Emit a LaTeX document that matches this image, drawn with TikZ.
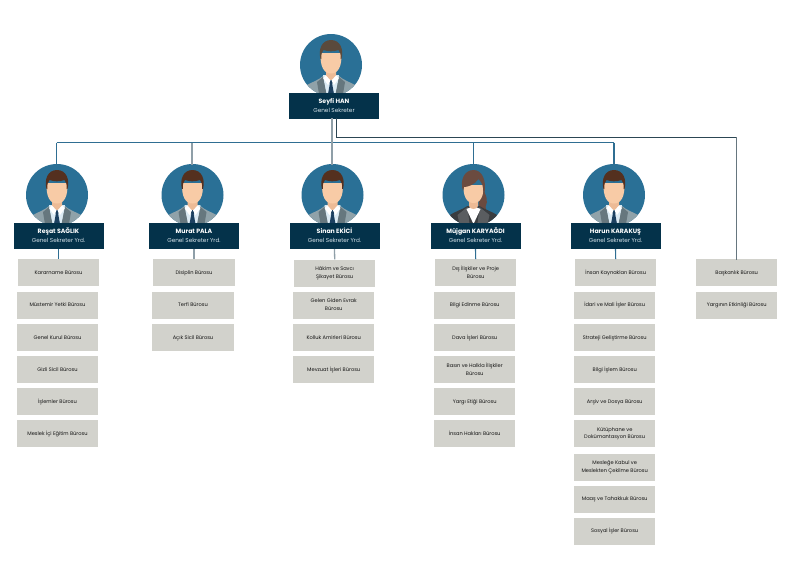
\documentclass[tikz,border=0pt]{standalone}
\usepackage{fontspec}
\setmainfont{Poppins}
\definecolor{navy}{HTML}{04324A}
\definecolor{disc}{HTML}{2A7096}
\definecolor{linkblue}{HTML}{2F6E92}
\definecolor{linkgrey}{HTML}{8F9FA8}
\definecolor{linkdark}{HTML}{2C4653}
\definecolor{linkside}{HTML}{66767F}
\definecolor{boxfill}{HTML}{D2D2CC}
\definecolor{suit}{HTML}{90A2A9}
\definecolor{suitdark}{HTML}{66777E}
\definecolor{shirt}{HTML}{DCEBF4}
\definecolor{tie}{HTML}{1C4060}
\definecolor{skin}{HTML}{F8CBA6}
\definecolor{neck}{HTML}{EDBB96}
\definecolor{hairA}{HTML}{54301F}
\definecolor{hairB}{HTML}{5A4A3C}
\definecolor{hairC}{HTML}{6B4B40}
\definecolor{blazer}{HTML}{3A3D40}
\definecolor{blazerl}{HTML}{5A5D60}
\definecolor{subtext}{HTML}{D5E2E9}
\newcommand{\ttl}[2]{\textbf{\vphantom{İŞ}#1}\\{\fontsize{5.7}{9}\selectfont\color{subtext}\vphantom{Ş}#2\vphantom{g}}}
\tikzset{
  x=1pt,y=-1pt,
  titlebar/.style={fill=navy,draw=none,minimum width=90pt,minimum height=26pt,inner sep=0pt,align=center,text=white,font=\fontsize{6.2}{9}\selectfont},
  office/.style={fill=boxfill,draw=none,minimum width=81.5pt,minimum height=27pt,inner sep=0pt,align=center,text=black!92,font=\fontsize{5.1}{7.6}\selectfont,execute at begin node=\vphantom{İŞ}},
  portrait/.style={circle,fill=disc,draw=none,minimum size=62pt,inner sep=0pt},
  linkb/.style={draw=linkblue,line width=1.1pt},
  linkg/.style={draw=linkgrey,line width=1.3pt},
  linkd/.style={draw=linkdark,line width=1pt},
  links/.style={draw=linkside,line width=1.2pt},
}
\newcommand{\manfig}[4]{% x y hair name
  \node[portrait] (#4) at (#1,#2) {};
  \begin{scope}[shift={(#1,#2)}]
    \clip (0,0) circle (31);
    \fill[suit] (-30,29) -- (-26,21) .. controls (-19,17) and (-12,15) .. (-8,11) -- (8,11) .. controls (12,15) and (19,17) .. (26,21) -- (30,29) -- cycle;
    \fill[shirt] (-8,10) -- (8,10) -- (5,29) -- (-5,29) -- cycle;
    \fill[neck] (-5,3) -- (5,3) -- (5,11) -- (0,16) -- (-5,11) -- cycle;
    \fill[tie] (-2,15) -- (2,15) -- (1.2,19) -- (3,29) -- (-3,29) -- (-1.2,19) -- cycle;
    \fill[suitdark] (-8,12) -- (-14,17) -- (-12,29) -- (-4.5,29) -- cycle;
    \fill[suitdark] (8,12) -- (14,17) -- (12,29) -- (4.5,29) -- cycle;
    \fill[white] (-5,10.5) -- (-0.5,15.5) -- (-3,20) -- (-8,13) -- cycle;
    \fill[white] (5,10.5) -- (0.5,15.5) -- (3,20) -- (8,13) -- cycle;
    \fill[skin] (-10.5,-12) -- (10.5,-12) .. controls (11,2) and (7,8.5) .. (0,8.5) .. controls (-7,8.5) and (-11,2) .. (-10.5,-12) -- cycle;
    \fill[#3] (-10.5,-6) .. controls (-13,-16) and (-9,-25) .. (0,-25) .. controls (9,-25) and (13,-16) .. (10.5,-6) -- (9.7,-6) .. controls (10,-11) and (9,-13) .. (7.5,-15) .. controls (2,-13) and (-3,-13.5) .. (-7.5,-15) .. controls (-9,-13) and (-10,-11) .. (-9.7,-6) -- cycle;
  \end{scope}}
\newcommand{\womanfig}[3]{% x y name
  \node[portrait] (#3) at (#1,#2) {};
  \begin{scope}[shift={(#1,#2)}]
    \clip (0,0) circle (31);
    \fill[hairC] (8,-8) .. controls (13,0) and (15,6) .. (12,12) .. controls (14,16) and (12,20) .. (9,22) -- (5,10) -- cycle;
    \fill[blazer] (-29,29) -- (-25,21) .. controls (-18,16) and (-12,15) .. (-6,11) -- (6,11) .. controls (12,15) and (18,16) .. (25,21) -- (29,29) -- cycle;
    \fill[blazerl] (-14,29) -- (-16,20) -- (-6,12) -- (-4,29) -- cycle;
    \fill[blazerl] (14,29) -- (16,20) -- (6,12) -- (4,29) -- cycle;
    \fill[white] (-7,14) -- (0,11) -- (7,14) -- (0,29) -- cycle;
    \fill[neck] (-4.5,3) -- (4.5,3) -- (4.5,11) .. controls (3,15) and (-3,15) .. (-4.5,11) -- cycle;
    \fill[skin] (-10,-10) -- (10,-10) .. controls (10.5,1) and (7,8) .. (0,8) .. controls (-7,8) and (-10.5,1) .. (-10,-10) -- cycle;
    \fill[hairC] (-10.5,-4) .. controls (-14,-15) and (-9,-25) .. (0,-25) .. controls (9,-25) and (13,-14) .. (11,-2) -- (9.8,-2) .. controls (10,-8) and (9,-12) .. (5,-16) .. controls (1,-10) and (-6,-8) .. (-9.5,-8) -- cycle;
  \end{scope}}
\begin{document}
\begin{tikzpicture}
\useasboundingbox (0,0) rectangle (800,566);
\fill[white] (0,0) rectangle (800,566);
% junctions
\coordinate (busL) at (56.5,142.5);
\coordinate (busR) at (614,142.5);
\coordinate (busB) at (192,142.5);
\coordinate (busC) at (332,142.5);
\coordinate (busD) at (473.5,142.5);
\coordinate (elbowA) at (336,137);
\coordinate (elbowB) at (736.5,137);
\coordinate (topA) at (332,118);
\coordinate (topB) at (336,118);
\coordinate (entryA) at (56.5,165);
\coordinate (entryB) at (192,165);
\coordinate (entryC) at (332,165);
\coordinate (entryD) at (473.5,165);
\coordinate (entryE) at (614,165);
\coordinate (sideEnd) at (736.5,260);
% portraits
\manfig{331}{65}{hairB}{pTop}
\manfig{57}{195}{hairA}{pA}
\manfig{192.5}{195}{hairA}{pB}
\manfig{332.5}{195}{hairA}{pC}
\womanfig{473.5}{195}{pD}
\manfig{614}{195}{hairA}{pE}
% title bars
\node[titlebar] (tTop) at (334,105.5) {\ttl{Seyfi HAN}{Genel Sekreter}};
\node[titlebar] (tA) at (58.5,236) {\ttl{Reşat SAĞLIK}{Genel Sekreter Yrd.}};
\node[titlebar] (tB) at (194,236) {\ttl{Murat PALA}{Genel Sekreter Yrd.}};
\node[titlebar] (tC) at (334.5,236) {\ttl{Sinan EKİCİ}{Genel Sekreter Yrd.}};
\node[titlebar] (tD) at (475.5,236) {\ttl{Müjgan KARYAĞDI}{Genel Sekreter Yrd.}};
\node[titlebar] (tE) at (615.5,236) {\ttl{Harun KARAKUŞ}{Genel Sekreter Yrd.}};
% column A
\node[office] (a1) at (58.5,272.7) {Kararname Bürosu};
\node[office] (a2) at (57.5,305.2) {Müstemir Yetki Bürosu};
\node[office] (a3) at (57.5,337.5) {Genel Kurul Bürosu};
\node[office] (a4) at (57.5,369.7) {Gizli Sicil Bürosu};
\node[office] (a5) at (57.5,401.7) {İşlemler Bürosu};
\node[office] (a6) at (57.5,433.7) {Meslek İçi Eğitim Bürosu};
% column B
\node[office] (b1) at (194,272.7) {Disiplin Bürosu};
\node[office] (b2) at (193,305.2) {Terfi Bürosu};
\node[office] (b3) at (193,337.5) {Açık Sicil Bürosu};
% column C
\node[office] (c1) at (334.7,273) {Hâkim ve Savcı\\Şikayet Bürosu};
\node[office] (c2) at (333.7,305.2) {Gelen Giden Evrak\\Bürosu};
\node[office] (c3) at (333.7,337.5) {Kolluk Amirleri Bürosu};
\node[office] (c4) at (333.7,369.7) {Mevzuat İşleri Bürosu};
% column D
\node[office] (d1) at (475.7,272.7) {Dış İlişkiler ve Proje\\Bürosu};
\node[office] (d2) at (474.7,305.2) {Bilgi Edinme Bürosu};
\node[office] (d3) at (474.7,337.5) {Dava İşleri Bürosu};
\node[office] (d4) at (474.7,369.7) {Basın ve Halkla İlişkiler\\Bürosu};
\node[office] (d5) at (474.7,401.7) {Yargı Etiği Bürosu};
\node[office] (d6) at (474.7,433.7) {İnsan Hakları Bürosu};
% column E
\node[office] (e1) at (615.7,272.7) {İnsan Kaynakları Bürosu};
\node[office] (e2) at (614.7,305.2) {İdari ve Mali İşler Bürosu};
\node[office] (e3) at (614.7,337.5) {Strateji Geliştirme Bürosu};
\node[office] (e4) at (614.7,369.7) {Bilgi İşlem Bürosu};
\node[office] (e5) at (614.7,401.7) {Arşiv ve Dosya Bürosu};
\node[office] (e6) at (614.7,433.7) {Kütüphane ve\\Dokümantasyon Bürosu};
\node[office] (e7) at (614.7,467) {Mesleğe Kabul ve\\Meslekten Çekilme Bürosu};
\node[office] (e8) at (614.7,499) {Maaş ve Tahakkuk Bürosu};
\node[office] (e9) at (614.7,531.3) {Sosyal İşler Bürosu};
% column F
\node[office] (f1) at (736.7,272.7) {Başkanlık Bürosu};
\node[office] (f2) at (736.7,305.2) {Yargının Etkinliği Bürosu};
% connectors
\draw[linkb] (busL) -- (busR);
\draw[linkg] (topA) -- (entryC);
\draw[linkd] (topB) -- (elbowA) -- (elbowB);
\draw[links] (elbowB) -- (sideEnd);
\draw[linkb] (busL) -- (entryA);
\draw[linkg] (busB) -- (entryB);
\draw[linkb] (busD) -- (entryD);
\draw[linkb] (busR) -- (entryE);
\draw[linkb] (tA.south) -- (a1.north);
\draw[linkg] (tB.south) -- (b1.north);
\draw[linkg] (tC.south) -- (c1.north);
\draw[linkb] (tD.south) -- (d1.north);
\draw[linkb] (tE.south) -- (e1.north);
\end{tikzpicture}
\end{document}
